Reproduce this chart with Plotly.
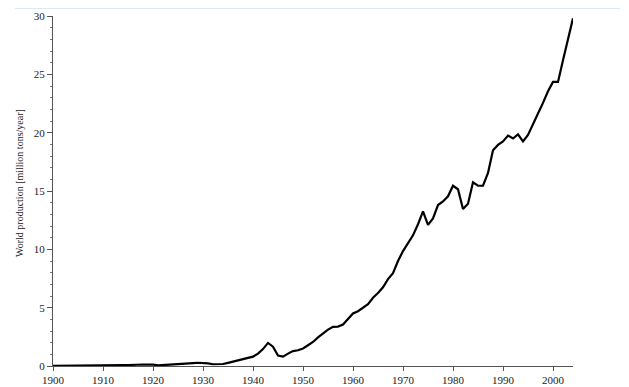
import plotly.graph_objects as go

years = list(range(1900, 2005))
production = [
    # 1900-1909
    0.01, 0.01, 0.01, 0.01, 0.02, 0.02, 0.02, 0.03, 0.03, 0.03,
    # 1910-1919
    0.04, 0.05, 0.06, 0.07, 0.07, 0.08, 0.11, 0.13, 0.13, 0.12,
    # 1920-1929
    0.12, 0.05, 0.07, 0.14, 0.17, 0.19, 0.20, 0.22, 0.25, 0.28,
    # 1930-1939
    0.27, 0.22, 0.15, 0.14, 0.17, 0.27, 0.38, 0.49, 0.60, 0.72,
    # 1940-1949
    0.80, 1.06, 1.45, 1.98, 1.66, 0.90, 0.80, 1.06, 1.28, 1.35,
    # 1950-1959
    1.50, 1.78, 2.06, 2.45, 2.80, 3.12, 3.36, 3.38, 3.55, 4.00,
    # 1960-1969
    4.50, 4.70, 5.00, 5.30, 5.85, 6.25, 6.75, 7.45, 7.95, 9.00,
    # 1970-1979
    9.85, 10.50, 11.20, 12.15, 13.25, 12.10, 12.65, 13.80, 14.10, 14.55,
    # 1980-1989
    15.45, 15.15, 13.45, 13.90, 15.75, 15.45, 15.45, 16.55, 18.50, 18.95,
    # 1990-1999
    19.25, 19.75, 19.50, 19.85, 19.25, 19.80, 20.80, 21.65, 22.55, 23.55,
    # 2000-2004
    24.35, 24.35, 26.20, 28.00, 29.80,
]

x_ticks = [1900, 1910, 1920, 1930, 1940, 1950, 1960, 1970, 1980, 1990, 2000]
y_ticks = [0, 5, 10, 15, 20, 25, 30]
y_title = "World production [million tons/year]"

font_family = "Liberation Serif"

fig = go.Figure()
fig.add_trace(go.Scatter(
    x=years, y=production, mode="lines",
    line=dict(color="#000000", width=2.2, shape="linear"),
    hoverinfo="x+y", showlegend=False,
))

fig.update_layout(
    template="none",
    width=621, height=379,
    margin=dict(l=45, r=56, t=8, b=21, autoexpand=False),
    paper_bgcolor="white", plot_bgcolor="white",
    font=dict(family=font_family, size=11, color="#222222"),
    xaxis=dict(
        range=[1900, 2004], tickmode="array", tickvals=x_ticks,
        showgrid=False, zeroline=False, showline=True, automargin=False,
        linecolor="#555555", linewidth=1,
        ticks="outside", ticklen=4, tickcolor="#555555",
        tickfont=dict(family=font_family, size=11, color="#222222"),
        fixedrange=True,
    ),
    yaxis=dict(
        range=[0, 30], tickmode="array", tickvals=y_ticks,
        showgrid=False, zeroline=False, showline=True, automargin=False,
        linecolor="#555555", linewidth=1,
        ticks="outside", ticklen=5, tickcolor="#555555",
        minor=dict(dtick=1, ticks="outside", ticklen=2, tickcolor="#777777", showgrid=False),
        tickfont=dict(family=font_family, size=11, color="#222222"),
        fixedrange=True,
    ),
    annotations=[dict(
        text=y_title, xref="paper", yref="paper",
        x=-0.0635, y=0.523, xanchor="center", yanchor="middle",
        textangle=-90, showarrow=False,
        font=dict(family=font_family, size=10, color="#222222"),
    )],
    shapes=[dict(
        type="line", xref="paper", yref="paper",
        x0=-0.073, x1=1.09, y0=1.0214, y1=1.0214,
        line=dict(color="#dce8f2", width=1),
    )],
)

fig.write_html("out.html")
